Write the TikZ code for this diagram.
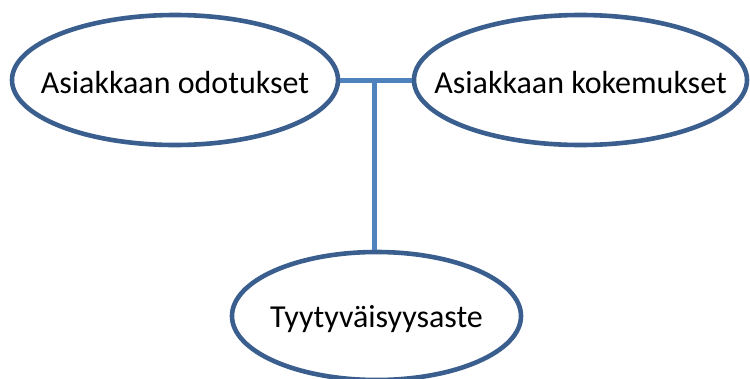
\documentclass[tikz,border=0pt]{standalone}
\usepackage{fontspec}
\setmainfont{Carlito}
\usetikzlibrary{shapes.geometric}
\definecolor{rimblue}{HTML}{3A5F8E}
\definecolor{linkblue}{HTML}{4F81BD}
% label in a box of no size, its baseline dropped below the ellipse centre,
% so the ellipse size comes from the minimum sizes alone
\newcommand{\bubbletext}[2][13.3pt]{\makebox[0pt]{\smash{\raisebox{-#1}{#2}}}}
\tikzset{
  bubble/.style={ellipse, draw=rimblue, line width=4.6pt, fill=white, inner sep=0pt,
    font=\fontsize{32}{38}\selectfont},
  link/.style={draw=linkblue, line width=5pt}
}
\begin{document}
\begin{tikzpicture}[x=1pt,y=-1pt]
  \useasboundingbox (0,0) rectangle (750,378);
  % the three concepts
  \node[bubble, minimum width=326pt, minimum height=130pt] (odot) at (175,80) {\bubbletext{Asiakkaan odotukset}};
  \node[bubble, minimum width=333pt, minimum height=130pt] (koke) at (580.5,80) {\bubbletext{Asiakkaan kokemukset}};
  \node[bubble, minimum width=289pt, minimum height=128pt] (tyyt) at (376.5,316) {\bubbletext[11.3pt]{Tyytyväisyysaste}};
  % joining bar and its stem
  \coordinate (join) at (374,80);
  \draw[link] (odot.east) -- (koke.west);
  \draw[link] (join) -- (join |- tyyt.north);
\end{tikzpicture}
\end{document}
